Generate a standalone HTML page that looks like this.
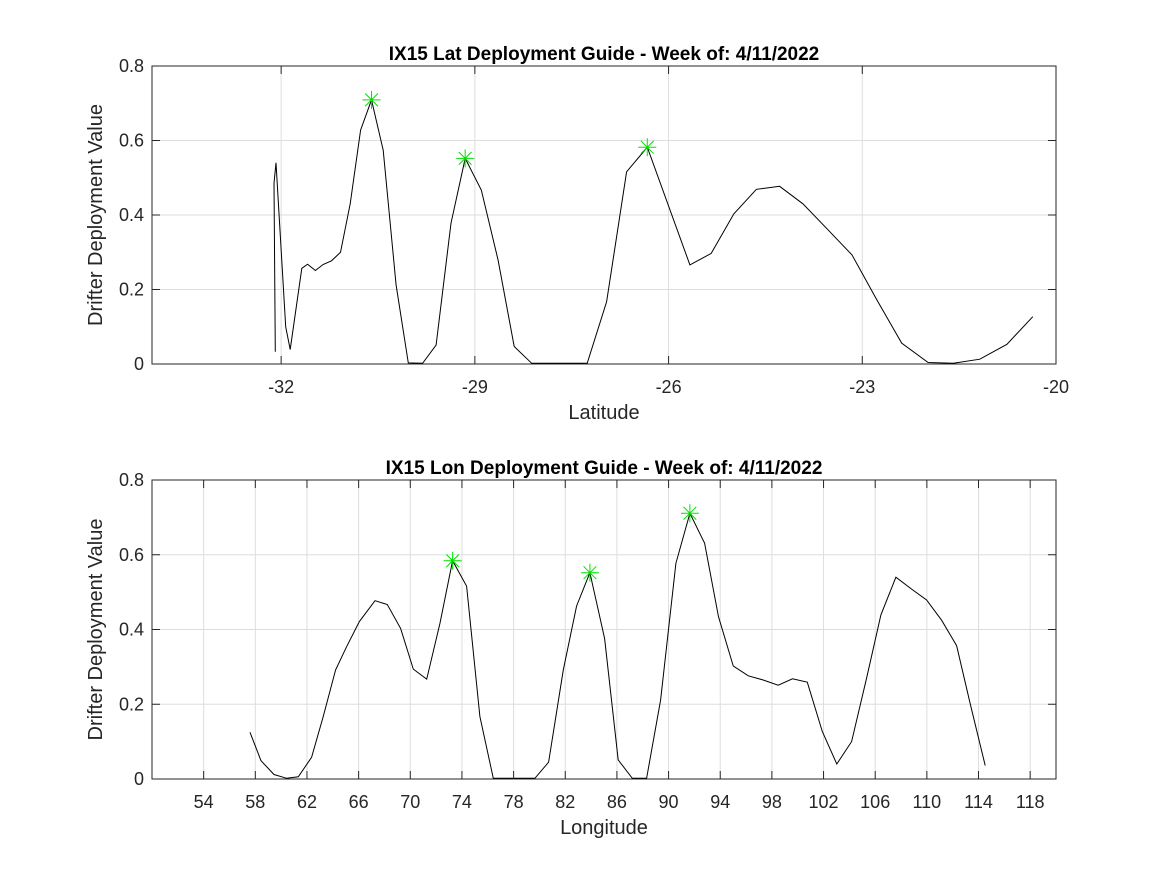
<!DOCTYPE html>
<html><head><meta charset="utf-8"><style>
html,body{margin:0;padding:0;background:#fff;}
svg{display:block;font-family:"Liberation Sans",Arial,sans-serif;}
</style></head><body>
<svg id="fig" width="1167" height="875" viewBox="0 0 1167 875"></svg>
<script>
// ---- Latitude chart data ----
const latX = [-32.09,-32.11,-32.08,-31.93,-31.86,-31.68,-31.59,-31.47,-31.35,-31.22,-31.08,-30.93,-30.77,-30.60,-30.42,-30.22,-30.03,-29.81,-29.60,-29.37,-29.15,-28.90,-28.64,-28.39,-28.12,-27.26,-26.96,-26.65,-26.33,-25.67,-25.34,-24.99,-24.64,-24.28,-23.92,-23.54,-23.16,-22.78,-22.39,-21.98,-21.59,-21.18,-20.76,-20.36];
const latY = [0.033,0.485,0.54,0.10,0.039,0.257,0.268,0.251,0.267,0.277,0.30,0.43,0.628,0.709,0.574,0.212,0.003,0.002,0.051,0.378,0.552,0.467,0.279,0.047,0.002,0.002,0.167,0.516,0.582,0.266,0.297,0.403,0.469,0.477,0.43,0.362,0.293,0.174,0.056,0.004,0.002,0.013,0.053,0.127];
const latPeakX = [-30.60,-29.15,-26.33];
const latPeakY = [0.709,0.552,0.582];
const latTicks = [-32,-29,-26,-23,-20];
// ---- Longitude chart data ----
const lonX = [57.59,58.44,59.45,60.43,61.33,62.36,63.26,64.22,65.07,66.05,67.27,68.22,69.25,70.23,71.27,72.30,73.28,74.36,75.39,76.43,79.65,80.71,81.85,82.88,83.91,85.05,86.10,87.19,88.30,89.38,90.57,91.65,92.79,93.87,95.01,96.17,97.33,98.49,99.60,100.74,101.90,103.03,104.17,105.33,106.44,107.60,108.82,109.98,111.14,112.30,113.38,114.52];
const lonY = [0.125,0.049,0.012,0.002,0.006,0.058,0.167,0.292,0.354,0.421,0.477,0.467,0.403,0.294,0.267,0.417,0.584,0.516,0.167,0.002,0.002,0.045,0.292,0.463,0.552,0.376,0.051,0.002,0.002,0.211,0.577,0.711,0.631,0.434,0.302,0.276,0.265,0.251,0.268,0.259,0.127,0.040,0.100,0.269,0.439,0.540,0.508,0.479,0.425,0.357,0.198,0.036];
const lonPeakX = [73.28,83.91,91.65];
const lonPeakY = [0.584,0.552,0.711];
const lonTicks = [54,58,62,66,70,74,78,82,86,90,94,98,102,106,110,114,118];
const yTicks = [0,0.2,0.4,0.6,0.8];
const yTickLabels = ["0","0.2","0.4","0.6","0.8"];

const NS="http://www.w3.org/2000/svg";
const svg=document.getElementById('fig');
function mk(tag,attrs,parent){const e=document.createElementNS(NS,tag);for(const k in attrs)e.setAttribute(k,attrs[k]);(parent||svg).appendChild(e);return e;}

function drawChart(o){
  const g=mk('g',{});
  
  
  const L=152,R=1056,T=o.top,B=o.bottom;
  const sx=v=>L+(v-o.xmin)/(o.xmax-o.xmin)*(R-L);
  const sy=v=>B-(v-0)/(0.8-0)*(B-T);
  mk('rect',{x:L,y:T,width:R-L,height:B-T,fill:'#fff'},g);
  o.xticks.forEach(t=>{const l=mk('line',{x1:sx(t),x2:sx(t),y1:T,y2:B,stroke:'#dedede','stroke-width':1},g);
    
    });
  yTicks.forEach(t=>{const l=mk('line',{x1:L,x2:R,y1:sy(t),y2:sy(t),stroke:'#dedede','stroke-width':1},g);
    
    });
  mk('rect',{x:L,y:T,width:R-L,height:B-T,fill:'none',stroke:'#262626','stroke-width':1},g);
  const pts=o.x.map((v,i)=>sx(v).toFixed(1)+','+sy(o.y[i]).toFixed(1)).join(' ');
  const pl=mk('polyline',{points:pts,fill:'none',stroke:'#000','stroke-width':1},g);
  
  
  o.px.forEach((v,i)=>{const cx=sx(v),cy=sy(o.py[i]),r=9,d=r*0.707;
    const s=mk('g',{stroke:'#00e000','stroke-width':1},g);
    
    
    mk('line',{x1:cx-r,x2:cx+r,y1:cy,y2:cy},s);
    mk('line',{x1:cx,x2:cx,y1:cy-r,y2:cy+r},s);
    mk('line',{x1:cx-d,x2:cx+d,y1:cy-d,y2:cy+d},s);
    mk('line',{x1:cx-d,x2:cx+d,y1:cy+d,y2:cy-d},s);});
  o.xticks.forEach(t=>{const x=sx(t);
    mk('line',{x1:x,x2:x,y1:B,y2:B-8,stroke:'#262626'},g);
    mk('line',{x1:x,x2:x,y1:T,y2:T+8,stroke:'#262626'},g);
    const tx=mk('text',{x:x,y:B+29,'font-size':18,'text-anchor':'middle',fill:'#262626'},g);
    tx.textContent=String(t);
    
    });
  yTicks.forEach((t,i)=>{const y=sy(t);
    mk('line',{x1:L,x2:L+8,y1:y,y2:y,stroke:'#262626'},g);
    mk('line',{x1:R,x2:R-8,y1:y,y2:y,stroke:'#262626'},g);
    const tx=mk('text',{x:L-8,y:y+6,'font-size':18,'text-anchor':'end',fill:'#262626'},g);
    tx.textContent=yTickLabels[i];
    
    });
  const ti=mk('text',{x:(L+R)/2,y:T-6,'font-size':19,'font-weight':'bold','text-anchor':'middle',fill:'#000'},g);
  ti.textContent=o.title;
  
  
  const xl=mk('text',{x:(L+R)/2,y:B+55,'font-size':20,'text-anchor':'middle',fill:'#262626'},g);
  xl.textContent=o.xlabel;
  
  
  const yl=mk('text',{x:0,y:0,'font-size':20,'text-anchor':'middle',fill:'#262626',transform:'translate(102,'+((T+B)/2)+') rotate(-90)'},g);
  yl.textContent='Drifter Deployment Value';
  
  
}
drawChart({name:'lat-chart',top:66,bottom:364,xmin:-34,xmax:-20,xticks:latTicks,x:latX,y:latY,px:latPeakX,py:latPeakY,title:'IX15 Lat Deployment Guide - Week of: 4/11/2022',xlabel:'Latitude'});
drawChart({name:'lon-chart',top:480,bottom:779,xmin:50,xmax:120,xticks:lonTicks,x:lonX,y:lonY,px:lonPeakX,py:lonPeakY,title:'IX15 Lon Deployment Guide - Week of: 4/11/2022',xlabel:'Longitude'});
</script>
</body></html>
